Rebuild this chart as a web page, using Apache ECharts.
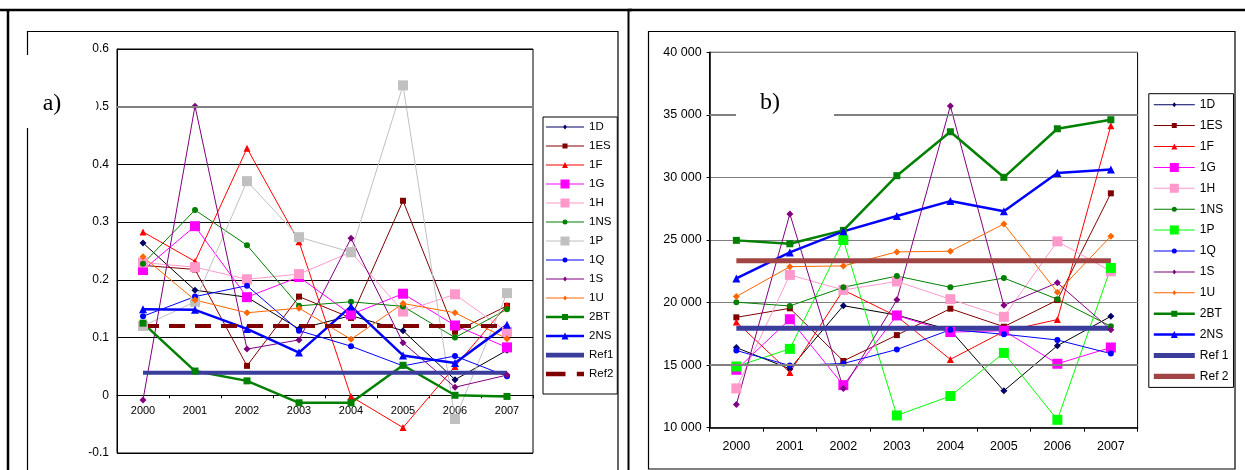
<!DOCTYPE html>
<html><head><meta charset="utf-8">
<script src="https://cdn.jsdelivr.net/npm/echarts@6/dist/echarts.min.js"></script>
<style>
html,body{margin:0;padding:0;background:#fff;width:1245px;height:470px;overflow:hidden;}
#a{position:absolute;left:0;top:0;width:632px;height:470px;}
#b{position:absolute;left:628px;top:0;width:617px;height:470px;}
</style></head><body>
<div id="a"></div><div id="b"></div>
<script>
// ---------- DATA ----------
const years = ['2000','2001','2002','2003','2004','2005','2006','2007'];
const yTicksA = [-0.1, 0.6, 0.1];         // min, max, interval (panel a)
const yTicksB = [10000, 40000, 5000];     // min, max, interval (panel b)

// Panel a)
const a_1D  = [0.264, 0.182, 0.170, 0.115, 0.138, 0.112, 0.027, 0.078];
const a_1ES = [0.225, 0.218, 0.051, 0.171, 0.134, 0.337, 0.110, 0.155];
const a_1F  = [0.283, 0.232, 0.428, 0.266, -0.002, -0.056, 0.050, 0.156];
const a_1G  = [0.217, 0.293, 0.170, 0.205, 0.140, 0.176, 0.121, 0.083];
const a_1H  = [0.230, 0.222, 0.201, 0.210, 0.248, 0.145, 0.175, 0.110];
const a_1NS = [0.228, 0.321, 0.260, 0.155, 0.162, 0.154, 0.100, 0.149];
const a_1P  = [0.120, 0.162, 0.371, 0.274, 0.248, 0.537, -0.041, 0.177];
const a_1Q  = [0.137, 0.171, 0.190, 0.112, 0.085, 0.051, 0.068, 0.033];
const a_1S  = [-0.008, 0.501, 0.080, 0.096, 0.272, 0.091, 0.014, 0.035];
const a_1U  = [0.240, 0.165, 0.143, 0.151, 0.097, 0.159, 0.143, 0.098];
const a_2BT = [0.125, 0.042, 0.025, -0.013, -0.013, 0.052, 0.000, -0.002];
const a_2NS = [0.149, 0.148, 0.115, 0.074, 0.154, 0.069, 0.056, 0.122];
const a_Ref1 = [0.039, 0.039, 0.039, 0.039, 0.039, 0.039, 0.039, 0.039];
const a_Ref2 = [0.12, 0.12, 0.12, 0.12, 0.12, 0.12, 0.12, 0.12];

// Panel b)
const b_1D  = [16400, 14700, 19750, 19000, 17800, 12950, 16550, 18900];
const b_1ES = [18820, 19540, 15330, 17400, 19510, 18070, 20200, 28730];
const b_1F  = [18450, 14420, 21000, 18900, 15460, 17690, 18640, 34140];
const b_1G  = [14630, 18670, 13400, 18970, 17640, 17750, 15110, 16410];
const b_1H  = [13140, 22210, 21010, 21690, 20270, 18860, 24890, 22500];
const b_1NS = [20030, 19730, 21220, 22120, 21220, 21960, 20270, 18100];
const b_1P  = [14890, 16300, 25000, 10980, 12530, 15980, 10630, 22770];
const b_1Q  = [16170, 14970, 15130, 16250, 17830, 17470, 17010, 15920];
const b_1S  = [11860, 27080, 13140, 20220, 35710, 19780, 21580, 17830];
const b_1U  = [20480, 22870, 22930, 24050, 24100, 26280, 20820, 25300];
const b_2BT = [24970, 24700, 25770, 30140, 33650, 30010, 33890, 34610];
const b_2NS = [21930, 24010, 25690, 26920, 28110, 27290, 30350, 30640];
const b_Ref1 = [17940, 17940, 17940, 17940, 17940, 17940, 17940, 17940];
const b_Ref2 = [23350, 23350, 23350, 23350, 23350, 23350, 23350, 23350];

// ---------- STYLES ----------
// c: line colour, m: marker colour, s: symbol, z: symbol size, w: line width, l: legend marker size
const styleA = {
  '1D':  {c:'#000000', m:'#000066', s:'diamond', z:7, w:1, l:5},
  '1ES': {c:'#800000', m:'#800000', s:'rect', z:6, w:1, l:5},
  '1F':  {c:'#ff0000', m:'#ff0000', s:'triangle', z:7, w:1, l:6},
  '1G':  {c:'#ff00ff', m:'#ff00ff', s:'rect', z:10, w:1, l:9},
  '1H':  {c:'#ff99cc', m:'#ff99cc', s:'rect', z:10, w:1, l:9},
  '1NS': {c:'#008000', m:'#008000', s:'circle', z:6, w:1, l:5},
  '1P':  {c:'#c0c0c0', m:'#c0c0c0', s:'rect', z:10, w:1, l:9},
  '1Q':  {c:'#0000ff', m:'#0000ff', s:'circle', z:6, w:1, l:5},
  '1S':  {c:'#800080', m:'#800080', s:'diamond', z:7, w:1, l:5},
  '1U':  {c:'#ff6600', m:'#ff6600', s:'diamond', z:7, w:1, l:5},
  '2BT': {c:'#008000', m:'#008000', s:'rect', z:7, w:2.5, l:6},
  '2NS': {c:'#0000ff', m:'#0000ff', s:'triangle', z:8, w:2.5, l:7}
};
const styleB = Object.assign({}, styleA, {
  '1P': {c:'#00ff00', m:'#00ff00', s:'rect', z:10, w:1, l:9}
});
const REF1_COLOR = '#3a3d9c', REF2A_COLOR = '#800000', REF2B_COLOR = '#a04444';
const BAND_ICON = 'path://M0,0H40V5H0Z';
const DASH_ICON = 'path://M0,0H19V4.5H0Z M30,0H37V4.5H30Z';

// legend icon: line across the sample with a small marker in the middle
function legendIcon(st, W) {
  const cy = 6, cx = W / 2, h = st.w / 2, r = st.l / 2;
  let p = 'M0,' + (cy - h) + 'H' + W + 'V' + (cy + h) + 'H0Z ';
  if (st.s === 'rect') {
    p += 'M' + (cx - r) + ',' + (cy - r) + 'H' + (cx + r) + 'V' + (cy + r) + 'H' + (cx - r) + 'Z';
  } else if (st.s === 'diamond') {
    p += 'M' + cx + ',' + (cy - r) + 'L' + (cx + r * 0.8) + ',' + cy + 'L' + cx + ',' + (cy + r) + 'L' + (cx - r * 0.8) + ',' + cy + 'Z';
  } else if (st.s === 'triangle') {
    p += 'M' + cx + ',' + (cy - r) + 'L' + (cx + r) + ',' + (cy + r) + 'L' + (cx - r) + ',' + (cy + r) + 'Z';
  } else {
    p += 'M' + (cx - r) + ',' + cy + 'A' + r + ',' + r + ' 0 1 1 ' + (cx + r) + ',' + cy +
         'A' + r + ',' + r + ' 0 1 1 ' + (cx - r) + ',' + cy + 'Z';
  }
  return 'path://' + p;
}

function mkSeries(name, data, st) {
  return {
    name: name, type: 'line', data: data,
    symbol: st.s, symbolSize: st.z, showSymbol: true,
    lineStyle: {color: st.c, width: st.w},
    itemStyle: {color: st.m},
    emphasis: {disabled: true}, silent: true, animation: false
  };
}
function mkRef(name, data, color, width, type) {
  return {
    name: name, type: 'line', data: data, symbol: 'none', showSymbol: false,
    lineStyle: {color: color, width: width, type: type || 'solid'},
    itemStyle: {color: color},
    emphasis: {disabled: true}, silent: true, animation: false
  };
}

const seriesA = [
  mkSeries('1D', a_1D, styleA['1D']), mkSeries('1ES', a_1ES, styleA['1ES']),
  mkSeries('1F', a_1F, styleA['1F']), mkSeries('1G', a_1G, styleA['1G']),
  mkSeries('1H', a_1H, styleA['1H']), mkSeries('1NS', a_1NS, styleA['1NS']),
  mkSeries('1P', a_1P, styleA['1P']), mkSeries('1Q', a_1Q, styleA['1Q']),
  mkSeries('1S', a_1S, styleA['1S']), mkSeries('1U', a_1U, styleA['1U']),
  mkSeries('2BT', a_2BT, styleA['2BT']), mkSeries('2NS', a_2NS, styleA['2NS']),
  mkRef('Ref1', a_Ref1, REF1_COLOR, 4),
  mkRef('Ref2', a_Ref2, REF2A_COLOR, 4, [16, 10])
];
seriesA[0].markLine = {silent:true, symbol:'none', label:{show:false},
  lineStyle:{color:'#808080', width:2, type:'solid'}, data:[{yAxis:0.5}], animation:false};

const seriesB = [
  mkSeries('1D', b_1D, styleB['1D']), mkSeries('1ES', b_1ES, styleB['1ES']),
  mkSeries('1F', b_1F, styleB['1F']), mkSeries('1G', b_1G, styleB['1G']),
  mkSeries('1H', b_1H, styleB['1H']), mkSeries('1NS', b_1NS, styleB['1NS']),
  mkSeries('1P', b_1P, styleB['1P']), mkSeries('1Q', b_1Q, styleB['1Q']),
  mkSeries('1S', b_1S, styleB['1S']), mkSeries('1U', b_1U, styleB['1U']),
  mkSeries('2BT', b_2BT, styleB['2BT']), mkSeries('2NS', b_2NS, styleB['2NS']),
  mkRef('Ref 1', b_Ref1, REF1_COLOR, 5),
  mkRef('Ref 2', b_Ref2, REF2B_COLOR, 5)
];
seriesB[0].markLine = {silent:true, symbol:'none', label:{show:false},
  lineStyle:{color:'#808080', width:2, type:'solid'}, data:[{yAxis:35000},{yAxis:15000}], animation:false};

const FONT = '"Liberation Sans", Arial, sans-serif';
const legendNames = ['1D','1ES','1F','1G','1H','1NS','1P','1Q','1S','1U','2BT','2NS'];
function legendItems(styles, W) {
  return legendNames.map(n => ({name: n, icon: legendIcon(styles[n], W), itemStyle: {color: styles[n].m}}));
}

// ---------- CHART A ----------
const GRID_A = {left: 117, top: 49, width: 416, height: 404};
// x axis sits on the zero line: distance from the bottom of the grid to value 0
const zeroOffsetA = -GRID_A.height * (0 - yTicksA[0]) / (yTicksA[1] - yTicksA[0]);

const chartA = echarts.init(document.getElementById('a'), null, {renderer:'canvas'});
chartA.setOption({
  animation: false,
  backgroundColor: 'transparent',
  grid: Object.assign({show: true, borderColor: '#000', borderWidth: 1,
         containLabel: false, outerBoundsMode: 'none'}, GRID_A),
  xAxis: {
    type: 'category', data: years, boundaryGap: true, position: 'bottom', offset: zeroOffsetA,
    axisLine: {show: true, onZero: false, lineStyle: {color: '#000', width: 1}},
    axisTick: {show: true, inside: false, length: 3, alignWithLabel: false, lineStyle: {color: '#000'}},
    axisLabel: {color: '#000', fontSize: 11, fontFamily: FONT, margin: 10, interval: 0},
    splitLine: {show: false}
  },
  yAxis: {
    type: 'value', min: yTicksA[0], max: yTicksA[1], interval: yTicksA[2],
    axisLine: {show: true, lineStyle: {color: '#000'}},
    axisTick: {show: false},
    axisLabel: {color: '#000', fontSize: 12, fontFamily: FONT, margin: 8},
    splitLine: {show: true, lineStyle: {color: '#000', width: 1}}
  },
  legend: {
    orient: 'vertical', left: 543, top: 117, padding: [4, 4, 14, 3],
    itemWidth: 38, itemHeight: 12, itemGap: 7,
    borderColor: '#000', borderWidth: 1, backgroundColor: '#fff',
    textStyle: {color: '#000', fontSize: 11.5, fontFamily: FONT},
    selectedMode: false,
    data: legendItems(styleA, 38).concat([
      {name: 'Ref1', icon: BAND_ICON, itemStyle: {color: REF1_COLOR}},
      {name: 'Ref2', icon: DASH_ICON, itemStyle: {color: REF2A_COLOR}}
    ])
  },
  graphic: [
    {type:'line', shape:{x1:0,y1:10,x2:632,y2:10}, style:{stroke:'#000',lineWidth:2.5}, silent:true},
    {type:'line', shape:{x1:8,y1:10,x2:8,y2:470}, style:{stroke:'#000',lineWidth:2.5}, silent:true},
    {type:'line', shape:{x1:628.5,y1:10,x2:628.5,y2:470}, style:{stroke:'#000',lineWidth:2}, silent:true},
    {type:'rect', shape:{x:27.5,y:31.5,width:590.5,height:460}, style:{fill:'none',stroke:'#000',lineWidth:1.2}, silent:true},
    {type:'rect', shape:{x:20,y:55,width:76,height:73}, style:{fill:'#fff'}, z:100, silent:true},
    {type:'text', x:52, y:104, z:101, silent:true,
     style:{text:'a)', fontSize:24, fontFamily:'"Liberation Serif", "DejaVu Serif", serif', fill:'#000', align:'center', verticalAlign:'middle'}}
  ],
  series: seriesA
});

// ---------- CHART B ----------
const chartB = echarts.init(document.getElementById('b'), null, {renderer:'canvas'});
chartB.setOption({
  animation: false,
  backgroundColor: 'transparent',
  grid: {left: 81.6, top: 52.3, width: 428, height: 375.4, show: true, borderColor: '#000', borderWidth: 1,
         containLabel: false, outerBoundsMode: 'none'},
  xAxis: {
    type: 'category', data: years, boundaryGap: true,
    axisLine: {show: true, onZero: false, lineStyle: {color: '#000', width: 1.5}},
    axisTick: {show: true, inside: false, length: 4, alignWithLabel: false, lineStyle: {color: '#000'}},
    axisLabel: {color: '#000', fontSize: 12.5, fontFamily: FONT, margin: 12, interval: 0},
    splitLine: {show: false}
  },
  yAxis: {
    type: 'value', min: yTicksB[0], max: yTicksB[1], interval: yTicksB[2],
    axisLine: {show: true, lineStyle: {color: '#000', width: 1.5}},
    axisTick: {show: true, inside: false, length: 3, lineStyle: {color: '#000'}},
    axisLabel: {color: '#000', fontSize: 12.5, fontFamily: FONT, margin: 8,
      formatter: v => String(v).replace(/\B(?=(\d{3})+(?!\d))/g, ' ')},
    splitLine: {show: true, lineStyle: {color: '#808080', width: 1}}
  },
  legend: {
    orient: 'vertical', left: 520.8, top: 93.7, padding: [5, 5, 5, 5],
    itemWidth: 41, itemHeight: 12, itemGap: 8.9,
    borderColor: '#000', borderWidth: 1, backgroundColor: '#fff',
    textStyle: {color: '#000', fontSize: 12, fontFamily: FONT},
    selectedMode: false,
    data: legendItems(styleB, 41).concat([
      {name: 'Ref 1', icon: BAND_ICON, itemStyle: {color: REF1_COLOR}},
      {name: 'Ref 2', icon: BAND_ICON, itemStyle: {color: REF2B_COLOR}}
    ])
  },
  graphic: [
    {type:'line', shape:{x1:0,y1:10,x2:617,y2:10}, style:{stroke:'#000',lineWidth:2.5}, silent:true},
    {type:'rect', shape:{x:20.5,y:31.5,width:586.5,height:437.5}, style:{fill:'none',stroke:'#000',lineWidth:1.2}, silent:true},
    {type:'rect', shape:{x:108,y:86,width:98,height:38}, style:{fill:'#fff'}, z:100, silent:true},
    {type:'text', x:142, y:103, z:101, silent:true,
     style:{text:'b)', fontSize:24, fontFamily:'"Liberation Serif", "DejaVu Serif", serif', fill:'#000', align:'center', verticalAlign:'middle'}}
  ],
  series: seriesB
});
</script>
</body></html>
